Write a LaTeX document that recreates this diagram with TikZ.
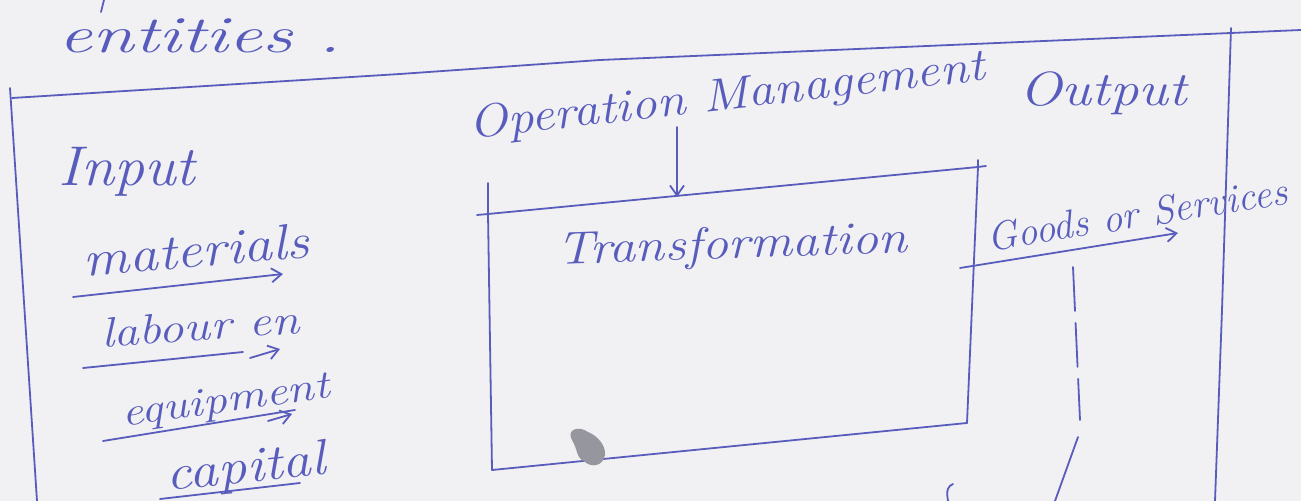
\documentclass[tikz,border=0pt]{standalone}
\usepackage{graphicx}
\usetikzlibrary{arrows.meta}
\definecolor{ink}{RGB}{88,92,188}
\definecolor{paper}{RGB}{241,241,243}
\definecolor{smudge}{RGB}{150,150,158}
% #1 horizontal stretch, #2 font size in pt, #3 text
\newcommand{\handtext}[3]{\scalebox{#1}[1]{\fontsize{#2}{#2}\selectfont\itshape #3}}
\tikzset{
  pen/.style={draw=ink, line width=0.9pt, line cap=round, line join=round},
  arr/.style={pen, -{Straight Barb[length=5pt,width=7pt]}},
  hand/.style={text=ink, inner sep=0pt},
}
\begin{document}
\begin{tikzpicture}[x=0.5pt,y=-0.5pt]
% sheet
\fill[paper] (0,0) rectangle (1301,501);
\useasboundingbox (0,0) rectangle (1301,501);

% stray stroke from the line above
\draw[pen] (104,0) -- (101,12);

\node[hand] (ent) at (200,36) {\handtext{1.45}{26}{entities .}};

% outer frame
\draw[pen] (10,88) -- (37,501);
\draw[pen] (12,98) -- (400,74) -- (600,60) -- (1301,30);
\draw[pen] (1231,28) -- (1222,310) -- (1215,501);

% inputs
\node[hand] (inp) at (127,172) {\handtext{1.07}{28}{Input}};
\node[hand, rotate=5] (mat) at (196,250) {\handtext{1.15}{25}{materials}};
\coordinate (mat0) at (73,297); \coordinate (mat1) at (283,274);
\draw[arr] (mat0) -- (mat1);
\node[hand, rotate=4] (lab) at (200,326) {\handtext{1.2}{21}{labour en}};
\coordinate (lab0) at (83,368); \coordinate (lab1) at (243,352);
\draw[pen] (lab0) -- (lab1);
\coordinate (lab2) at (250,358); \coordinate (lab3) at (280,349);
\draw[arr] (lab2) -- (lab3);
\node[hand, rotate=8] (eqp) at (226,403) {\handtext{1.22}{20}{equipment}};
\coordinate (eqp0) at (103,441); \coordinate (eqp1) at (295,410);
\draw[pen] (eqp0) -- (eqp1);
\coordinate (eqp2) at (268,421); \coordinate (eqp3) at (292,414);
\draw[arr] (eqp2) -- (eqp3);
\node[hand, rotate=6] (cap) at (246,470) {\handtext{1.15}{25}{capital}};
\coordinate (cap0) at (160,499); \coordinate (cap1) at (300,483);
\draw[pen] (cap0) -- (cap1);

% transformation box
\coordinate (b1) at (488,214); \coordinate (b2) at (978,167);
\coordinate (b3) at (967,423); \coordinate (b4) at (492,470);
\draw[pen] (488,183) -- (b1) -- (b4) -- (b3);
\draw[pen] (477,215) -- (b1) -- (b2) -- (986,166);
\draw[pen] (978,160) -- (b2) -- (b3);
\node[hand, rotate=2] (tr) at (732,247) {\handtext{1.15}{23}{Transformation}};

% operation management
\node[hand, rotate=6.5] (om) at (727,98) {\handtext{1.13}{23}{Operation Management}};
\coordinate (om0) at (677,127); \coordinate (om1) at (677,197);
\draw[arr] (om0) -- (om1);

% output
\node[hand] (out) at (1103,93) {\handtext{1.18}{24}{Output}};
\node[hand, rotate=9] (gs) at (1137,214) {\handtext{1}{20}{Goods or Services}};
\coordinate (gs0) at (960,268); \coordinate (gs1) at (1178,233);
\draw[arr] (gs0) -- (gs1);

% return line
\coordinate (r0) at (1073,267); \coordinate (r1) at (1080,420);
\coordinate (r2) at (1078,437); \coordinate (r3) at (1055,501);
\draw[pen, dash pattern=on 22pt off 6pt] (r0) -- (r1);
\draw[pen] (r2) -- (r3);
\draw[pen] (948,501) .. controls (946,490) and (948,486) .. (953,484);

% smudge
\fill[smudge] (572,440) .. controls (566,430) and (578,425) .. (588,432)
  .. controls (598,436) and (606,446) .. (605,455)
  .. controls (603,466) and (592,468) .. (585,462)
  .. controls (576,458) and (578,450) .. cycle;
\end{tikzpicture}
\end{document}
